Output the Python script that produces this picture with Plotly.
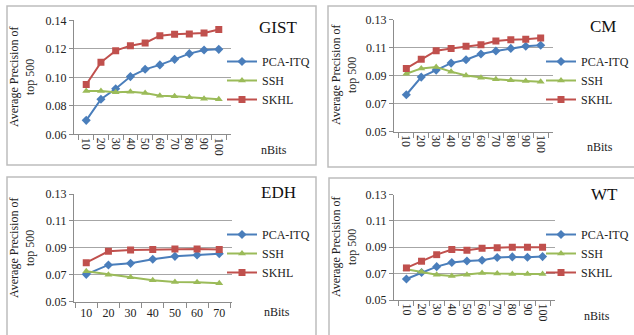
import plotly.graph_objects as go

W, H = 634, 335

bits10 = ["10", "20", "30", "40", "50", "60", "70", "80", "90", "100"]
bits7 = ["10", "20", "30", "40", "50", "60", "70"]

gist_pca = [0.0698, 0.0846, 0.0920, 0.1005, 0.1056, 0.1087, 0.1126, 0.1166, 0.1192, 0.1196]
gist_ssh = [0.0904, 0.0904, 0.0895, 0.0899, 0.0890, 0.0871, 0.0867, 0.0860, 0.0850, 0.0846]
gist_skhl = [0.0949, 0.1105, 0.1187, 0.1222, 0.1241, 0.1292, 0.1302, 0.1304, 0.1311, 0.1335]

cm_pca = [0.0764, 0.0890, 0.0940, 0.0990, 0.1014, 0.1055, 0.1076, 0.1095, 0.1110, 0.1117]
cm_ssh = [0.0914, 0.0952, 0.0962, 0.0929, 0.0902, 0.0886, 0.0874, 0.0867, 0.0862, 0.0857]
cm_skhl = [0.0952, 0.1017, 0.1079, 0.1095, 0.1110, 0.1121, 0.1148, 0.1157, 0.1160, 0.1169]

edh_pca = [0.0703, 0.0773, 0.0785, 0.0815, 0.0837, 0.0847, 0.0857]
edh_ssh = [0.0726, 0.0701, 0.0681, 0.0659, 0.0647, 0.0644, 0.0637]
edh_skhl = [0.0790, 0.0874, 0.0884, 0.0887, 0.0892, 0.0892, 0.0887]

wt_pca = [0.0659, 0.0708, 0.0753, 0.0784, 0.0796, 0.0801, 0.0822, 0.0827, 0.0824, 0.0829]
wt_ssh = [0.0733, 0.0715, 0.0692, 0.0682, 0.0692, 0.0705, 0.0700, 0.0697, 0.0697, 0.0697]
wt_skhl = [0.0743, 0.0794, 0.0844, 0.0882, 0.0877, 0.0892, 0.0897, 0.0900, 0.0900, 0.0900]

series_names = ["PCA-ITQ", "SSH", "SKHL"]
colors = ["#4A7EBB", "#9BBB59", "#C0504D"]
symbols = ["diamond", "triangle-up", "square"]
msizes = [7, 7, 7]

titles = ["GIST", "CM", "EDH", "WT"]
y_ranges = [[0.06, 0.14], [0.05, 0.13], [0.05, 0.13], [0.05, 0.13]]

SERIF = "Liberation Serif"

# panel geometry in pixels (left, right, top, bottom) of plot areas
panels = [
    dict(x0=74, x1=231, y0=20.3, y1=134.3, cats=bits10, data=[gist_pca, gist_ssh, gist_skhl], angle=90),
    dict(x0=394, x1=553, y0=19.7, y1=131.7, cats=bits10, data=[cm_pca, cm_ssh, cm_skhl], angle=90),
    dict(x0=74, x1=231.5, y0=194, y1=301.7, cats=bits7, data=[edh_pca, edh_ssh, edh_skhl], angle=0),
    dict(x0=394, x1=555, y0=194.5, y1=300, cats=bits10, data=[wt_pca, wt_ssh, wt_skhl], angle=90),
]
legend_pos = [(222, 47), (541, 47), (222, 220), (541, 220)]
title_pos = [(278, 27), (603, 26), (278, 193), (604, 194)]
nbits_pos = [(274, 150), (600, 147), (277, 312), (597, 316)]
ytitle_pos = [(22, 77), (344, 75), (22, 248), (344, 247)]
borders = [(7, 6, 316, 165), (328, 6, 640, 167), (7, 177, 316, 340), (329, 178, 640, 340)]

fig = go.Figure()
layout = dict(
    width=W, height=H, margin=dict(l=0, r=0, t=0, b=0, autoexpand=False),
    paper_bgcolor="white", plot_bgcolor="white",
    font=dict(family=SERIF, size=12, color="#222"),
    shapes=[], annotations=[],
)

for i, p in enumerate(panels):
    n = i + 1
    xa = "x" if n == 1 else f"x{n}"
    ya = "y" if n == 1 else f"y{n}"
    lg = "legend" if n == 1 else f"legend{n}"
    for j in range(3):
        fig.add_trace(go.Scatter(
            x=p["cats"], y=p["data"][j], name=series_names[j], mode="lines+markers",
            line=dict(color=colors[j], width=2),
            marker=dict(symbol=symbols[j], size=msizes[j], color=colors[j]),
            xaxis=xa, yaxis=ya, legend=lg, showlegend=True,
        ))
    xkey = "xaxis" if n == 1 else f"xaxis{n}"
    ykey = "yaxis" if n == 1 else f"yaxis{n}"
    layout[xkey] = dict(
        domain=[p["x0"] / W, p["x1"] / W], anchor=ya, type="category",
        showline=True, linecolor="#8c8c8c", linewidth=1,
        ticks="outside", tickson="boundaries", ticklen=5, tickcolor="#8c8c8c",
        showgrid=False, tickangle=p["angle"], tickfont=dict(family=SERIF, size=12, color="#222"),
        fixedrange=True, automargin=False,
    )
    layout[ykey] = dict(
        domain=[1 - p["y1"] / H, 1 - p["y0"] / H], anchor=xa,
        range=y_ranges[i], tick0=y_ranges[i][0], dtick=0.02, tickformat=".2f",
        showline=True, linecolor="#8c8c8c", linewidth=1,
        ticks="outside", ticklen=4, tickcolor="#8c8c8c",
        showgrid=True, gridcolor="#a6a6a6", gridwidth=1, zeroline=False,
        tickfont=dict(family=SERIF, size=12, color="#222"),
        fixedrange=True, automargin=False,
    )
    lx, ly = legend_pos[i]
    layout[lg] = dict(
        x=lx / W, y=1 - ly / H, xanchor="left", yanchor="top",
        bgcolor="rgba(0,0,0,0)", borderwidth=0, itemwidth=30,
        font=dict(family=SERIF, size=12, color="#222"),
        tracegroupgap=0,
    )
    tx, ty = title_pos[i]
    layout["annotations"].append(dict(
        text=titles[i], x=tx / W, y=1 - ty / H, xref="paper", yref="paper",
        showarrow=False, xanchor="center", yanchor="middle",
        font=dict(family=SERIF, size=17, color="#111"),
    ))
    bx, by = nbits_pos[i]
    layout["annotations"].append(dict(
        text="nBits", x=bx / W, y=1 - by / H, xref="paper", yref="paper",
        showarrow=False, xanchor="center", yanchor="middle",
        font=dict(family=SERIF, size=12, color="#222"),
    ))
    ax_, ay_ = ytitle_pos[i]
    layout["annotations"].append(dict(
        text="Average Precision of<br>top 500", x=ax_ / W, y=1 - ay_ / H,
        xref="paper", yref="paper", showarrow=False, textangle=-90,
        xanchor="center", yanchor="middle",
        font=dict(family=SERIF, size=12, color="#222"),
    ))
    b0, b1, b2, b3 = borders[i]
    layout["shapes"].append(dict(
        type="rect", xref="paper", yref="paper",
        x0=b0 / W, x1=b2 / W, y0=1 - b3 / H, y1=1 - b1 / H,
        line=dict(color="#bdbdbd", width=1.5), layer="below",
    ))

fig.update_layout(**layout)
fig.write_html("out.html", config={"displayModeBar": False},
               post_script="document.body.style.margin='0';")
